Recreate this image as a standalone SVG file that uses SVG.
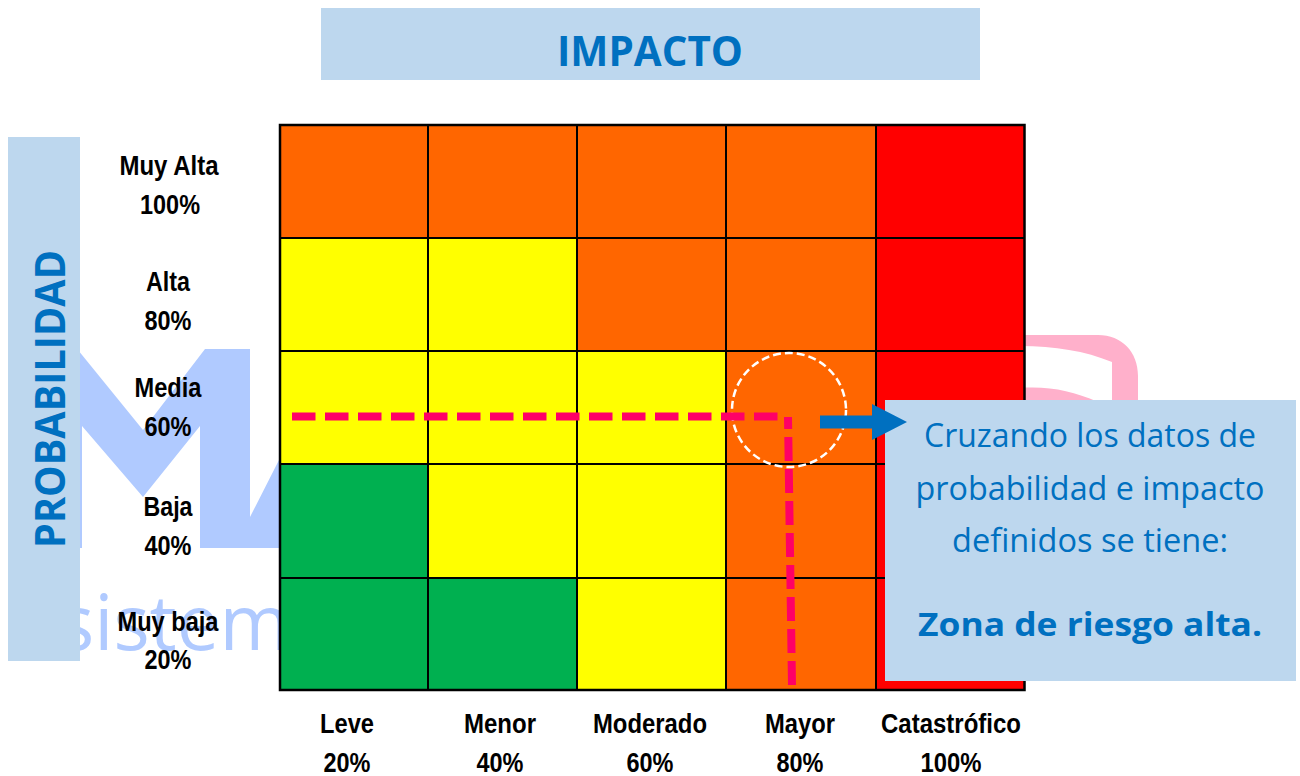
<svg xmlns="http://www.w3.org/2000/svg" width="1300" height="776" viewBox="0 0 1300 776">
<style>
.lb{font-family:"Liberation Sans",Arial,sans-serif;font-weight:700;font-size:27px;fill:#000;text-anchor:middle}
.hd{font-family:"Open Sans","Noto Sans",sans-serif;font-weight:700;font-size:41px;fill:#0070C0;text-anchor:middle}
.pt{font-family:"Open Sans","Noto Sans",sans-serif;font-size:32px;fill:#0070C0;text-anchor:middle}
.panel{fill:#BDD7EE}
.o{fill:#FF6600}.y{fill:#FFFF00}.r{fill:#FF0000}.g{fill:#00B050}
.c{stroke:#000;stroke-width:2}
.dash{fill:none;stroke:#FF0066;stroke-width:8}
</style>
<g id="watermark">
<path fill="#B0CAFF" d="M78 350L143 430L205 349H250V517L279 460V548H237L250 517V548H200V426L143 497L82 426V548H70V350Z"/>
<text x="58" y="650" font-family="Open Sans,Noto Sans,sans-serif" font-size="76" fill="#B0CAFF">sistem</text>
<path fill="#FFB0CB" d="M1020 335H1098C1122 335 1138 352 1138 376V402H1112V362C1085 351 1055 346 1020 346ZM1020 388C1050 386 1072 391 1098 402H1020Z"/>
</g>
<g id="impacto-title"><rect class="panel" x="321" y="8" width="659" height="72"/><text class="hd" x="650" y="66" textLength="186" lengthAdjust="spacingAndGlyphs">IMPACTO</text></g>
<g id="probabilidad-title"><rect class="panel" x="8" y="137" width="72" height="524"/><text class="hd" transform="translate(65 399) rotate(-90)" textLength="298" lengthAdjust="spacingAndGlyphs">PROBABILIDAD</text></g>
<g id="matrix">
<rect class="o" x="279" y="125" width="149" height="113"/><rect class="o" x="428" y="125" width="149" height="113"/><rect class="o" x="577" y="125" width="149" height="113"/><rect class="o" x="726" y="125" width="150" height="113"/><rect class="r" x="876" y="125" width="149" height="113"/>
<rect class="y" x="279" y="238" width="149" height="113"/><rect class="y" x="428" y="238" width="149" height="113"/><rect class="o" x="577" y="238" width="149" height="113"/><rect class="o" x="726" y="238" width="150" height="113"/><rect class="r" x="876" y="238" width="149" height="113"/>
<rect class="y" x="279" y="351" width="149" height="113"/><rect class="y" x="428" y="351" width="149" height="113"/><rect class="y" x="577" y="351" width="149" height="113"/><rect class="o" x="726" y="351" width="150" height="113"/><rect class="r" x="876" y="351" width="149" height="113"/>
<rect class="g" x="279" y="464" width="149" height="114"/><rect class="y" x="428" y="464" width="149" height="114"/><rect class="y" x="577" y="464" width="149" height="114"/><rect class="o" x="726" y="464" width="150" height="114"/><rect class="r" x="876" y="464" width="149" height="114"/>
<rect class="g" x="279" y="578" width="149" height="112"/><rect class="g" x="428" y="578" width="149" height="112"/><rect class="y" x="577" y="578" width="149" height="112"/><rect class="o" x="726" y="578" width="150" height="112"/><rect class="r" x="876" y="578" width="149" height="112"/>
<path class="c" d="M428 125V690M577 125V690M726 125V690M876 125V690M279 238H1025M279 351H1025M279 464H1025M279 578H1025"/>
<rect x="280" y="125" width="744.500" height="565" fill="none" stroke="#000" stroke-width="2.500"/>
</g>
<g id="row-labels">
<text class="lb" x="169" y="175" textLength="99" lengthAdjust="spacingAndGlyphs">Muy Alta</text><text class="lb" x="170" y="214" textLength="60" lengthAdjust="spacingAndGlyphs">100%</text>
<text class="lb" x="168" y="291" textLength="44" lengthAdjust="spacingAndGlyphs">Alta</text><text class="lb" x="168" y="330" textLength="47" lengthAdjust="spacingAndGlyphs">80%</text>
<text class="lb" x="168" y="397" textLength="67" lengthAdjust="spacingAndGlyphs">Media</text><text class="lb" x="168" y="436" textLength="47" lengthAdjust="spacingAndGlyphs">60%</text>
<text class="lb" x="168" y="516" textLength="49" lengthAdjust="spacingAndGlyphs">Baja</text><text class="lb" x="168" y="555" textLength="47" lengthAdjust="spacingAndGlyphs">40%</text>
<text class="lb" x="168" y="631" textLength="101" lengthAdjust="spacingAndGlyphs">Muy baja</text><text class="lb" x="168" y="669" textLength="47" lengthAdjust="spacingAndGlyphs">20%</text>
</g>
<g id="column-labels">
<text class="lb" x="347" y="733" textLength="54" lengthAdjust="spacingAndGlyphs">Leve</text><text class="lb" x="347" y="772" textLength="47" lengthAdjust="spacingAndGlyphs">20%</text>
<text class="lb" x="500" y="733" textLength="72" lengthAdjust="spacingAndGlyphs">Menor</text><text class="lb" x="500" y="772" textLength="47" lengthAdjust="spacingAndGlyphs">40%</text>
<text class="lb" x="650" y="733" textLength="114" lengthAdjust="spacingAndGlyphs">Moderado</text><text class="lb" x="650" y="772" textLength="47" lengthAdjust="spacingAndGlyphs">60%</text>
<text class="lb" x="800" y="733" textLength="70" lengthAdjust="spacingAndGlyphs">Mayor</text><text class="lb" x="800" y="772" textLength="47" lengthAdjust="spacingAndGlyphs">80%</text>
<text class="lb" x="951" y="733" textLength="140" lengthAdjust="spacingAndGlyphs">Catastrófico</text><text class="lb" x="951" y="772" textLength="61" lengthAdjust="spacingAndGlyphs">100%</text>
</g>
<g id="result-panel"><rect class="panel" x="885" y="400" width="411" height="281"/>
<text class="pt" x="1090" y="447" textLength="332" lengthAdjust="spacingAndGlyphs">Cruzando los datos de</text>
<text class="pt" x="1090" y="500" textLength="349" lengthAdjust="spacingAndGlyphs">probabilidad e impacto</text>
<text class="pt" x="1090" y="552" textLength="276" lengthAdjust="spacingAndGlyphs">definidos se tiene:</text>
<text class="pt" x="1090" y="636" font-weight="700" font-size="34" textLength="344" lengthAdjust="spacingAndGlyphs">Zona de riesgo alta.</text>
</g>
<g id="connectors">
<circle cx="789" cy="410" r="57" fill="none" stroke="#fff" stroke-width="2.500" stroke-dasharray="8 4"/>
<path class="dash" d="M292 416.500H782" stroke-dasharray="23.500 9.500"/>
<path class="dash" d="M788 417L792 685" stroke-dasharray="12 8 24 8 24 8 24 8 24 8 24 8 24 8 24 8 24 8 24 8"/>
<path fill="#0070C0" d="M820 415.500H872V404L907 422L872 440V428.500H820Z"/>
</g>
</svg>
